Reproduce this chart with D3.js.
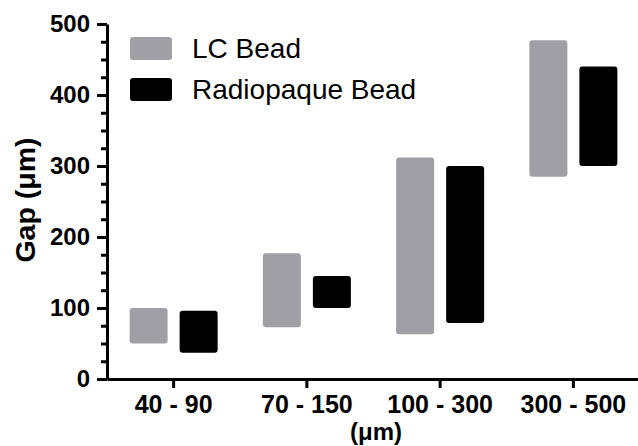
<!DOCTYPE html>
<html>
<head>
<meta charset="utf-8">
<script src="https://cdn.jsdelivr.net/npm/d3@7"></script>
<style>
  body { margin: 0; background: #fff; }
  svg { display: block; }
  .axis path, .axis line { stroke: #000; stroke-width: 3; }
  .axis text { font-family: "Liberation Sans", Arial, sans-serif; font-weight: bold; fill: #000; }
</style>
</head>
<body>
<script>
// dados
const categories = ["40 - 90", "70 - 150", "100 - 300", "300 - 500"];
const series = ["LC Bead", "Radiopaque Bead"];
const lcLow = [50, 73, 63, 285];
const lcHigh = [100, 177, 312, 477];
const radioLow = [37, 100, 79, 300];
const radioHigh = [96, 145, 300, 440];
const yTicks = [0, 100, 200, 300, 400, 500];
const colors = ["#a09fa5", "#000000"];

const width = 638, height = 446;

const svg = d3.select("body").append("svg")
  .attr("width", width)
  .attr("height", height);

const x = d3.scaleBand().domain(categories).range([107, 640]);
const x1 = d3.scaleBand().domain(series).range([-44, 44]).paddingInner(0.24);
const y = d3.scaleLinear().domain([0, 500]).range([379, 24]);

const rows = [];
categories.forEach((c, i) => {
  rows.push({ cat: c, s: series[0], low: lcLow[i], high: lcHigh[i] });
  rows.push({ cat: c, s: series[1], low: radioLow[i], high: radioHigh[i] });
});

// barras flutuantes (min - max)
svg.append("g").selectAll("rect")
  .data(rows)
  .enter().append("rect")
  .attr("x", d => x(d.cat) + x.bandwidth() / 2 + x1(d.s))
  .attr("y", d => y(d.high))
  .attr("width", x1.bandwidth())
  .attr("height", d => y(d.low) - y(d.high))
  .attr("rx", 3)
  .attr("fill", d => colors[series.indexOf(d.s)]);

// ticks menores do eixo y
const minor = d3.range(25, 500, 25).filter(v => v % 100 !== 0);
svg.append("g")
  .attr("class", "axis")
  .attr("transform", "translate(107,0)")
  .call(d3.axisLeft(y).tickValues(minor).tickSize(6).tickFormat(""))
  .call(g => g.select(".domain").remove());

svg.append("g")
  .attr("class", "axis")
  .attr("transform", "translate(107,0)")
  .call(d3.axisLeft(y).tickValues(yTicks).tickSize(10).tickSizeOuter(0).tickPadding(7))
  .call(g => g.selectAll("text").style("font-size", "24px"));

svg.append("g")
  .attr("class", "axis")
  .attr("transform", "translate(0,379)")
  .call(d3.axisBottom(x).tickSize(9).tickSizeOuter(0).tickPadding(7))
  .call(g => g.selectAll("text").style("font-size", "25px"));

// títulos dos eixos
svg.append("text")
  .attr("transform", "translate(35,200) rotate(-90)")
  .attr("text-anchor", "middle")
  .attr("font-family", "Liberation Sans, Arial, sans-serif")
  .attr("font-weight", "bold")
  .style("font-size", "28.5px")
  .text("Gap (μm)");

svg.append("text")
  .attr("x", 376)
  .attr("y", 440)
  .attr("text-anchor", "middle")
  .attr("font-family", "Liberation Sans, Arial, sans-serif")
  .attr("font-weight", "bold")
  .style("font-size", "24px")
  .text("(μm)");

// legenda
const legend = svg.append("g").attr("transform", "translate(130,37)");
series.forEach((s, i) => {
  legend.append("rect")
    .attr("x", 0)
    .attr("y", i * 41)
    .attr("width", 42)
    .attr("height", 23)
    .attr("rx", 3)
    .attr("fill", colors[i]);
  legend.append("text")
    .attr("x", 62)
    .attr("y", i * 41 + 21)
    .attr("font-family", "Liberation Sans, Arial, sans-serif")
    .style("font-size", "28px")
    .text(s);
});
</script>
</body>
</html>
